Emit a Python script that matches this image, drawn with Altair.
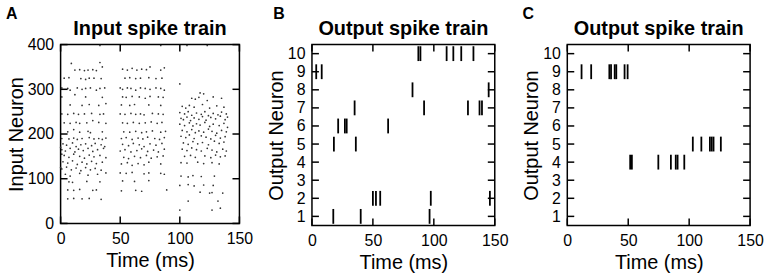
import altair as alt
import pandas as pd

# ---------------- data ----------------
# Panel A: input spikes (time ms, neuron index), three bursts read off the raster
burst1_t = [33, 9, 33, 12, 16, 20, 23, 27, 30, 35, 3, 7, 17, 24, 28, 34, 21,
            1, 6, 8, 14, 18, 21, 25, 30, 33, 37, 1, 21, 35, 12, 8, 18, 24, 32, 38,
            1, 6, 11, 15, 20, 26, 33, 36, 3, 8, 13, 16, 22, 32, 38, 27,
            6, 16, 23, 25, 35, 11, 1, 7, 11, 14, 18, 24, 28, 32, 35, 38,
            2, 5, 10, 13, 17, 21, 26, 29, 34, 37, 1, 4, 8, 12, 15, 19, 23, 27, 31, 36,
            3, 7, 11, 16, 20, 24, 28, 33, 38, 2, 6, 10, 14, 18, 22, 26, 30, 35,
            1, 5, 9, 13, 17, 21, 25, 29, 34, 4, 8, 16, 23, 31, 38,
            7, 10, 22, 33, 6, 11, 16, 27, 30, 6, 11, 18, 24, 34, 0, 0, 1]
burst1_n = [398, 358, 360, 343, 344, 342, 343, 344, 342, 350, 325, 326, 324, 325, 325, 324, 322,
            303, 302, 298, 303, 300, 302, 303, 298, 302, 303, 283, 283, 282, 288, 265, 264, 266, 264, 268,
            245, 244, 246, 244, 245, 246, 244, 245, 225, 224, 226, 224, 225, 226, 224, 230,
            205, 204, 206, 203, 205, 210, 190, 189, 191, 188, 190, 192, 189, 190, 188, 191,
            178, 175, 180, 172, 176, 178, 174, 179, 176, 172, 165, 162, 168, 160, 166, 163, 168, 161, 165, 168,
            152, 148, 155, 150, 146, 153, 149, 152, 147, 138, 135, 140, 132, 137, 133, 139, 134, 137,
            122, 126, 120, 124, 118, 125, 120, 123, 119, 110, 106, 112, 108, 110, 113,
            93, 92, 94, 93, 75, 74, 76, 74, 75, 55, 56, 55, 56, 54, 170, 125, 155]

burst2_t = [84, 52, 56, 60, 64, 68, 72, 84, 87, 75, 54, 58, 63, 67, 74, 80, 85,
            50, 52, 56, 59, 63, 67, 71, 75, 80, 84, 87, 52, 55, 60, 66, 71, 75, 82, 86,
            51, 58, 62, 74, 84, 50, 54, 59, 63, 67, 70, 77, 82, 86,
            52, 56, 61, 66, 71, 76, 81, 85, 53, 58, 63, 68, 72, 77, 84, 88,
            51, 55, 60, 65, 69, 73, 79, 83, 87, 52, 57, 61, 66, 70, 75, 80, 85,
            50, 54, 59, 64, 68, 73, 78, 82, 87, 53, 57, 62, 67, 72, 76, 81, 86,
            51, 56, 60, 65, 70, 74, 84, 50, 55, 60, 70, 74, 84, 87,
            52, 62, 74, 51, 63, 68, 89]
burst2_n = [398, 345, 343, 347, 343, 345, 344, 343, 348, 350, 325, 326, 324, 325, 326, 324, 325,
            303, 300, 303, 302, 298, 303, 302, 300, 303, 302, 298, 283, 282, 284, 283, 280, 284, 283, 282,
            265, 264, 266, 265, 264, 245, 244, 246, 244, 245, 243, 246, 245, 244,
            225, 224, 226, 224, 225, 227, 224, 226, 205, 204, 206, 203, 205, 207, 204, 206,
            190, 192, 188, 191, 189, 193, 190, 188, 192, 177, 174, 179, 176, 172, 178, 175, 179,
            162, 165, 160, 163, 167, 161, 164, 160, 166, 148, 145, 150, 147, 152, 146, 149, 151,
            133, 136, 130, 134, 131, 137, 133, 113, 112, 114, 111, 113, 112, 110,
            95, 94, 96, 73, 74, 72, 75]

burst3_t = [106, 123, 100, 117, 120, 110, 113, 116, 123, 135, 128,
            102, 105, 108, 112, 119, 125, 131, 137,
            100, 104, 107, 110, 114, 118, 121, 124, 128, 132, 135, 139,
            101, 103, 106, 109, 112, 116, 119, 122, 126, 130, 134, 138, 140,
            100, 104, 108, 111, 114, 117, 121, 125, 128, 133, 137, 140,
            102, 106, 110, 113, 116, 120, 124, 127, 131, 135, 139,
            101, 105, 108, 112, 118, 122, 126, 130, 134, 138,
            103, 107, 111, 115, 119, 124, 129, 133, 137,
            102, 106, 110, 114, 118, 123, 127, 131, 136, 139,
            104, 109, 113, 121, 126, 130, 134, 138,
            101, 106, 115, 120, 127, 133, 101, 107, 111, 118, 129,
            100, 107, 112, 120, 128, 117, 125, 127, 136, 107, 132, 100, 127, 134]
burst3_n = [398, 398, 312, 292, 290, 280, 278, 282, 275, 280, 283,
            262, 258, 264, 260, 266, 258, 263, 260,
            248, 245, 250, 242, 247, 244, 250, 241, 246, 243, 249, 245,
            235, 232, 238, 230, 236, 233, 239, 231, 237, 234, 240, 232, 238,
            222, 219, 225, 218, 223, 220, 226, 217, 222, 219, 224, 215,
            208, 205, 210, 203, 207, 204, 211, 206, 202, 208, 205,
            195, 192, 198, 190, 196, 193, 189, 197, 191, 194,
            180, 177, 183, 178, 181, 176, 184, 179, 182,
            166, 163, 169, 165, 162, 168, 164, 160, 166, 162,
            150, 152, 148, 151, 147, 153, 149, 151,
            136, 135, 137, 134, 136, 133, 106, 104, 107, 105, 106,
            85, 87, 84, 86, 85, 70, 68, 69, 68, 50, 50, 30, 30, 34]

# Panel B: output spikes
b_t = [87.3, 89, 110.5, 116, 122.5, 132.5, 3.5, 8, 82.5, 145,
       35, 92, 128, 137.5, 139.5, 21.5, 27, 28.5, 62.5, 18, 36,
       50, 52.5, 56, 97.5, 146, 17.5, 40, 96.5]
b_n = [10, 10, 10, 10, 10, 10, 9, 9, 8, 8,
       7, 7, 7, 7, 7, 6, 6, 6, 6, 5, 5,
       2, 2, 2, 2, 2, 1, 1, 1]

# Panel C: output spikes
c_t = [11.7, 19.6, 34.5, 35.9, 38.9, 40.2, 47, 49.5,
       103, 110, 117, 118.5, 120, 126,
       51.6, 53, 74.7, 85, 89, 90.5, 96]
c_n = [9, 9, 9, 9, 9, 9, 9, 9,
       5, 5, 5, 5, 5, 5,
       4, 4, 4, 4, 4, 4, 4]

time_ticks = [0, 50, 100, 150]
input_ticks = [0, 100, 200, 300, 400]
output_ticks = [1, 2, 3, 4, 5, 6, 7, 8, 9, 10]

FONT = "Liberation Sans"
TICK = 7


def frame_ticks(W, H, xs, ys, xaxis, yaxis, xticks, yticks, ytitle):
    xt = pd.DataFrame({"t": xticks})
    yt = pd.DataFrame({"n": yticks})
    X = alt.X("t:Q", scale=xs, axis=xaxis, title="Time (ms)")
    Y = alt.Y("n:Q", scale=ys, axis=yaxis, title=ytitle)
    base_x = alt.Chart(xt).mark_rule(color="black", strokeWidth=1.5)
    base_y = alt.Chart(yt).mark_rule(color="black", strokeWidth=1.5)
    return [
        base_x.encode(x=X, y=alt.value(0), y2=alt.value(TICK)),
        base_x.encode(x=X, y=alt.value(H - TICK), y2=alt.value(H)),
        base_y.encode(y=Y, x=alt.value(0), x2=alt.value(TICK)),
        base_y.encode(y=Y, x=alt.value(W - TICK), x2=alt.value(W)),
    ]


def make_axis(values, title, title_pad):
    return alt.Axis(values=values, ticks=False, tickSize=0, domain=False, grid=False,
                    labelFontSize=16, titleFontSize=20, labelFont=FONT, titleFont=FONT,
                    titleFontWeight="normal", labelColor="black", titleColor="black",
                    labelFlush=False, labelPadding=7, titlePadding=title_pad, title=title)


def panel(data_layer_fn, W, H, ydomain, yticks, ytitle, title, letter, letter_dx):
    xs = alt.Scale(domain=[0, 150], nice=False, zero=False)
    ys = alt.Scale(domain=ydomain, nice=False, zero=False)
    xaxis = make_axis(time_ticks, "Time (ms)", 4)
    yaxis = make_axis(yticks, ytitle, 1)
    main = data_layer_fn(xs, ys, xaxis, yaxis)
    lab = alt.Chart(pd.DataFrame({"l": [letter]})).mark_text(
        font=FONT, fontSize=16, fontWeight="bold", align="left", baseline="alphabetic",
        color="black").encode(text="l:N", x=alt.value(letter_dx), y=alt.value(-26))
    ttl = alt.Chart(pd.DataFrame({"l": [title]})).mark_text(
        font=FONT, fontSize=20, fontWeight="bold", align="center", baseline="alphabetic",
        color="black").encode(text="l:N", x=alt.value(W / 2), y=alt.value(-10))
    layers = [main] + frame_ticks(W, H, xs, ys, xaxis, yaxis, time_ticks, yticks, ytitle) + [lab, ttl]
    return alt.layer(*layers).properties(width=W, height=H)


def layer_a(xs, ys, xaxis, yaxis):
    df = pd.DataFrame({"t": burst1_t + burst2_t + burst3_t,
                       "n": burst1_n + burst2_n + burst3_n})
    return alt.Chart(df).mark_circle(size=3, color="#333333", opacity=1).encode(
        x=alt.X("t:Q", scale=xs, axis=xaxis, title="Time (ms)"),
        y=alt.Y("n:Q", scale=ys, axis=yaxis, title="Input Neuron"))


def spike_layer(ts, ns):
    def fn(xs, ys, xaxis, yaxis):
        df = pd.DataFrame({"t": ts, "n": ns})
        return alt.Chart(df).transform_calculate(
            lo="datum.n - 0.41", hi="datum.n + 0.41"
        ).mark_rule(color="black", strokeWidth=1.8).encode(
            x=alt.X("t:Q", scale=xs, axis=xaxis, title="Time (ms)"),
            y=alt.Y("lo:Q", scale=ys, axis=yaxis, title="Output Neuron"),
            y2="hi:Q")
    return fn


pa = panel(layer_a, 180, 180, [0, 400], input_ticks, "Input Neuron",
           "Input spike train", "A", -55)
pb = panel(spike_layer(b_t, b_n), 184, 182, [0.5, 10.5], output_ticks, "Output Neuron",
           "Output spike train", "B", -39)
pc = panel(spike_layer(c_t, c_n), 184, 182, [0.5, 10.5], output_ticks, "Output Neuron",
           "Output spike train", "C", -45)

chart = alt.hconcat(pa, pb, pc, spacing=73, bounds="flush").properties(
    padding={"left": 5, "top": 4, "right": 0, "bottom": 0}
).configure(background="white").configure_view(stroke="black", strokeWidth=1.5)

chart.save("out.html", embed_options={"renderer": "svg", "actions": False})
